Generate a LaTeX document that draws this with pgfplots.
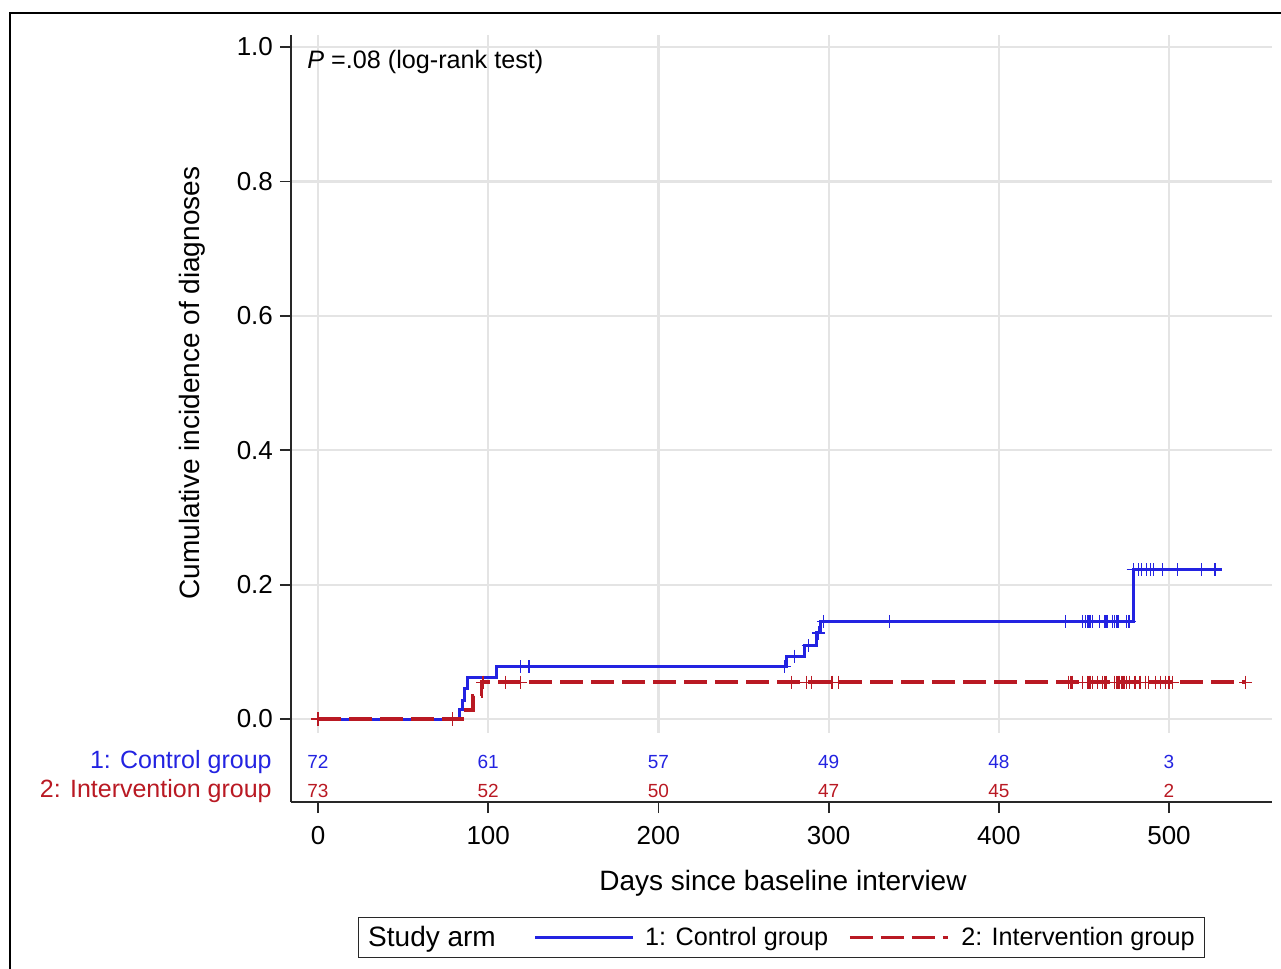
\documentclass[border=0pt]{standalone}
\usepackage{fontspec}
\setmainfont{Liberation Sans}
\usepackage{pgfplots}
\pgfplotsset{compat=1.18}
\definecolor{cblue}{RGB}{35,35,225}
\definecolor{cred}{RGB}{185,25,35}
\definecolor{gridc}{RGB}{228,228,228}
\definecolor{axc}{RGB}{40,40,40}

\begin{document}
\begin{tikzpicture}
\path[use as bounding box] (-145.5pt,-83.5pt) rectangle (495pt,401pt);
\begin{axis}[
  at={(0,0)}, anchor=south west,
  scale only axis, width=490.5pt, height=383.5pt,
  xmin=-15.86, xmax=560.5, ymin=-0.1235, ymax=1.0179,
  axis x line*=bottom, axis y line*=left,
  axis line style={axc, line width=0.9pt, -},
  xtick={0,100,200,300,400,500},
  ytick={0,0.2,0.4,0.6,0.8,1},
  ymajorgrids=true,
  grid style={gridc, line width=1.1pt},
  tick align=outside, major tick length=5.5pt,
  tick style={axc, line width=0.9pt},
  /pgf/number format/assume math mode=true,
  yticklabel style={/pgf/number format/.cd, fixed, fixed zerofill, precision=1},
  xticklabel style={yshift=-3pt},
  ticklabel style={font=\fontsize{13}{15}\selectfont},
  xlabel={Days since baseline interview},
  ylabel={Cumulative incidence of diagnoses},
  label style={font=\fontsize{14}{16}\selectfont},
  xlabel style={at={(axis description cs:0.5015,-0.116)}, anchor=base},
  ylabel style={at={(axis description cs:-0.1009,0.5463)}, anchor=center},
  clip=false,
  legend columns=3,
  legend image code/.code={\draw[#1] (0pt,0pt) -- (49pt,0pt);},
  legend style={at={(axis description cs:0.5,-0.1767)}, anchor=center,
    draw=axc, line width=0.6pt, font=\fontsize{12.6}{15}\selectfont,
    /tikz/column 2/.style={column sep=17pt},
    /tikz/column 3/.style={column sep=3.2pt},
    /tikz/column 4/.style={column sep=8pt},
    /tikz/column 5/.style={column sep=3.8pt}},
]
% vertical grid lines (plot region only)
\pgfplotsinvokeforeach{0,100,200,300,400,500}{
  \draw[gridc, line width=1.1pt] (axis cs:#1,-0.021) -- (axis cs:#1,1.0179);
}

% Control group (blue)
\addplot[const plot, cblue, line width=1.5pt, forget plot] coordinates {
(0,0) (83,0.0139) (85,0.0278) (86,0.0461) (88,0.0615) (105,0.0778)
(275,0.0933) (286,0.109) (293,0.128) (295,0.145) (479,0.222) (531,0.222)
};
\addplot[only marks, mark=+, cblue, mark size=3.3pt, mark options={line width=0.6pt}, forget plot] coordinates {
(79,0) (119,0.0778) (124,0.0778) (274,0.0778) (280,0.0933) (288,0.109) (294,0.128)
(297,0.145) (336,0.145) (439,0.145) (449,0.145) (451,0.145) (452,0.145) (453,0.145)
(454,0.145) (455,0.145) (459,0.145) (462,0.145) (463,0.145) (464,0.145) (467,0.145)
(468,0.145) (469,0.145) (470,0.145) (475,0.145) (476,0.145) (477,0.145)
(479,0.222) (482,0.222) (484,0.222) (487,0.222) (489,0.222) (491,0.222) (496,0.222)
(505,0.222) (519,0.222) (527,0.222)
};

% Intervention group (red)
\addplot[const plot, cred, line width=1.7pt, dash pattern=on 11.5pt off 4pt, forget plot] coordinates {
(0,0) (85,0.0137) (91,0.0342) (96,0.0548) (545,0.0548)
};
\addplot[only marks, mark=+, cred, mark size=3.3pt, mark options={line width=0.6pt, solid}, forget plot] coordinates {
(0,0) (79,0) (97,0.0548) (110,0.0548) (119,0.0548) (278,0.0548) (287,0.0548) (290,0.0548)
(302,0.0548) (306,0.0548) (441,0.0548) (442,0.0548) (443,0.0548) (449,0.0548)
(452,0.0548) (453,0.0548) (454,0.0548) (455,0.0548) (458,0.0548) (461,0.0548)
(462,0.0548) (463,0.0548) (468,0.0548) (469,0.0548) (470,0.0548) (471,0.0548)
(472,0.0548) (473,0.0548) (474,0.0548) (475,0.0548) (477,0.0548) (480,0.0548)
(483,0.0548) (486,0.0548) (488,0.0548) (492,0.0548) (495,0.0548) (498,0.0548)
(500,0.0548) (502,0.0548) (545,0.0548)
};

% numbers at risk
\addplot[draw=none, mark=none, forget plot, nodes near coords, point meta=explicit symbolic,
  nodes near coords style={anchor=mid, text=cblue, font=\fontsize{9.5}{11}\selectfont}]
  table[meta=n] {
x y n
0 -0.0655 72
100 -0.0655 61
200 -0.0655 57
300 -0.0655 49
400 -0.0655 48
500 -0.0655 3
};
\addplot[draw=none, mark=none, forget plot, nodes near coords, point meta=explicit symbolic,
  nodes near coords style={anchor=mid, text=cred, font=\fontsize{9.5}{11}\selectfont}]
  table[meta=n] {
x y n
0 -0.1087 73
100 -0.1087 52
200 -0.1087 50
300 -0.1087 47
400 -0.1087 45
500 -0.1087 2
};
\node[anchor=mid east, text=cblue, font=\fontsize{12.5}{15}\selectfont, inner sep=0pt]
  at (axis cs:-15.86,-0.0655) [xshift=-9.5pt] {1: Control group};
\node[anchor=mid east, text=cred, font=\fontsize{12.5}{15}\selectfont, inner sep=0pt]
  at (axis cs:-15.86,-0.1087) [xshift=-9.5pt] {2: Intervention group};

\node[anchor=mid west, inner sep=0pt, font=\fontsize{12.6}{15}\selectfont]
  at (axis description cs:0.0163,0.9635) {\textit{P} =.08 (log-rank test)};

\addlegendimage{empty legend}
\addlegendentry{\fontsize{14}{16}\selectfont Study arm}
\addlegendimage{cblue, line width=1.5pt}
\addlegendentry{1: Control group}
\addlegendimage{cred, line width=1.7pt, dash pattern=on 11.5pt off 4pt}
\addlegendentry{2: Intervention group}
\end{axis}
\draw[black, line width=0.8pt] (-140.5pt,-100pt) rectangle (520pt,394.5pt);
\end{tikzpicture}
\end{document}
